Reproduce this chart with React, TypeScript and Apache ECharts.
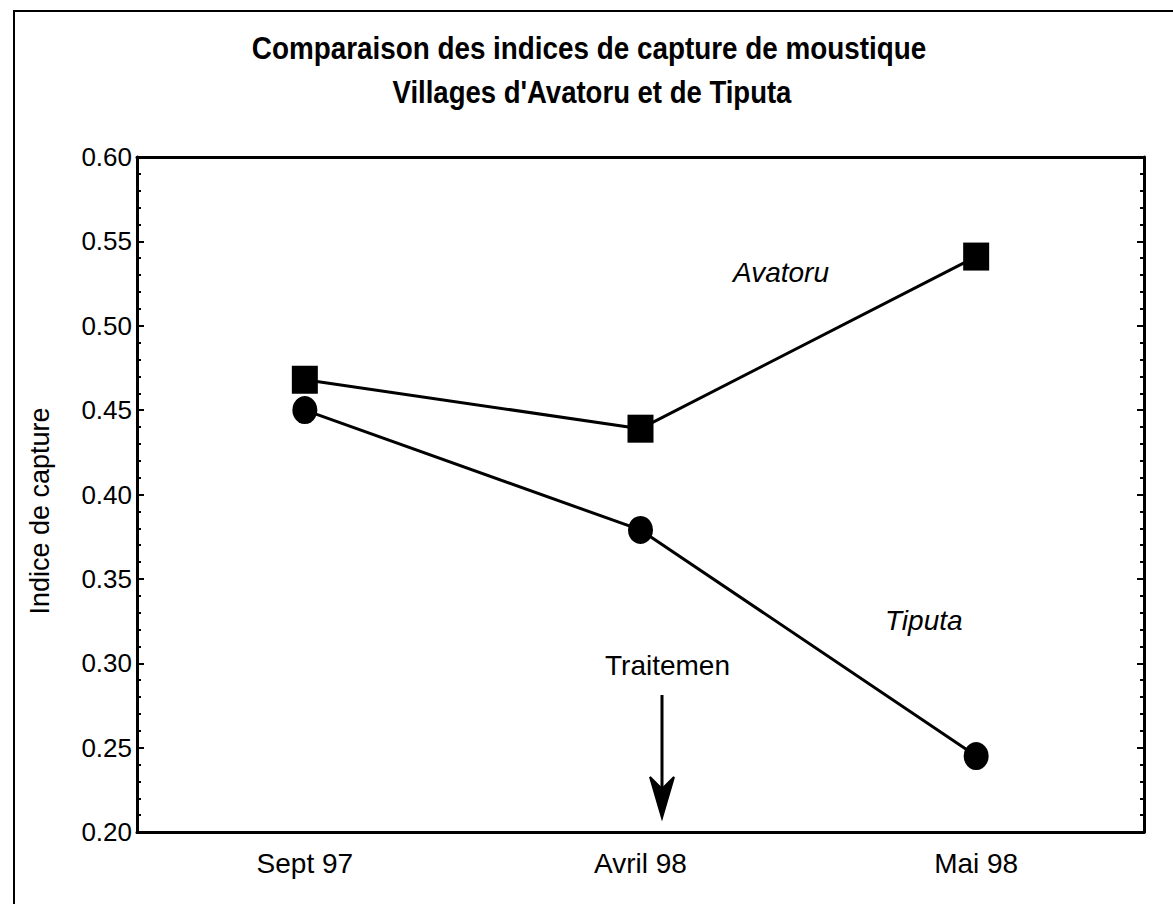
import React, { useEffect, useRef } from "react";
import * as echarts from "echarts";

const categories = ["Sept 97", "Avril 98", "Mai 98"];
const avatoru = [0.468, 0.439, 0.541];
const tiputa = [0.45, 0.379, 0.245];
const yTicks = { min: 0.2, max: 0.6, interval: 0.05 };
const titleLine1 = "Comparaison des indices de capture de moustique";
const titleLine2 = "Villages d'Avatoru et de Tiputa";
const yName = "Indice de capture";

const FONT = "'Liberation Sans', Arial, sans-serif";

export default function App() {
  const ref = useRef<HTMLDivElement>(null);
  useEffect(() => {
    document.body.style.margin = "0";
    const chart = echarts.init(ref.current!, null, { renderer: "svg" });
    const axisLineStyle = { color: "#000", width: 3 };
    chart.setOption({
      animation: false,
      backgroundColor: "#fff",
      textStyle: { fontFamily: FONT, color: "#000" },
      grid: { left: 137, right: 29, top: 157, bottom: 72 },
      xAxis: [
        {
          type: "category",
          data: categories,
          position: "bottom",
          boundaryGap: true,
          axisLine: { lineStyle: axisLineStyle },
          axisTick: { inside: true, alignWithLabel: true, length: 6, lineStyle: { color: "#000", width: 2 } },
          axisLabel: { color: "#000", fontSize: 28, fontFamily: FONT, margin: 17 },
          splitLine: { show: false },
        },
        {
          type: "category",
          data: categories,
          position: "top",
          boundaryGap: true,
          axisLine: { lineStyle: axisLineStyle },
          axisTick: { inside: true, alignWithLabel: true, length: 6, lineStyle: { color: "#000", width: 2 } },
          axisLabel: { show: false },
          splitLine: { show: false },
        },
      ],
      yAxis: [
        {
          type: "value",
          position: "left",
          min: yTicks.min,
          max: yTicks.max,
          interval: yTicks.interval,
          axisLine: { show: true, lineStyle: axisLineStyle },
          axisTick: { show: true, inside: true, length: 7, lineStyle: { color: "#000", width: 2 } },
          minorTick: { show: true, splitNumber: 5, length: 4, lineStyle: { color: "#000", width: 2 } },
          axisLabel: {
            color: "#000",
            fontSize: 26,
            fontFamily: FONT,
            margin: 5,
            formatter: (v: number) => v.toFixed(2),
          },
          splitLine: { show: false },
        },
        {
          type: "value",
          position: "right",
          min: yTicks.min,
          max: yTicks.max,
          interval: yTicks.interval,
          axisLine: { show: true, lineStyle: axisLineStyle },
          axisTick: { show: true, inside: true, length: 7, lineStyle: { color: "#000", width: 2 } },
          minorTick: { show: true, splitNumber: 5, length: 4, lineStyle: { color: "#000", width: 2 } },
          axisLabel: { show: false },
          splitLine: { show: false },
        },
      ],
      series: [
        {
          name: "Avatoru",
          type: "line",
          data: avatoru,
          symbol: "rect",
          symbolSize: [26, 28],
          showSymbol: true,
          lineStyle: { color: "#000", width: 3 },
          itemStyle: { color: "#000" },
        },
        {
          name: "Tiputa",
          type: "line",
          data: tiputa,
          symbol: "circle",
          symbolSize: [25, 28],
          showSymbol: true,
          lineStyle: { color: "#000", width: 3 },
          itemStyle: { color: "#000" },
        },
      ],
      graphic: [
        {
          type: "polyline",
          shape: { points: [[14, 904], [14, 11], [1173, 11]] },
          style: { stroke: "#000", lineWidth: 2, fill: null },
        },
        {
          type: "text",
          x: 589,
          y: 48,
          scaleX: 0.87,
          style: {
            text: titleLine1,
            font: `bold 32px ${FONT}`,
            fill: "#000",
            align: "center",
            verticalAlign: "middle",
          },
        },
        {
          type: "text",
          x: 592,
          y: 92,
          scaleX: 0.86,
          style: {
            text: titleLine2,
            font: `bold 32px ${FONT}`,
            fill: "#000",
            align: "center",
            verticalAlign: "middle",
          },
        },
        {
          type: "text",
          x: 40,
          y: 511,
          rotation: Math.PI / 2,
          style: { text: yName, font: `27px ${FONT}`, fill: "#000", align: "center", verticalAlign: "middle" },
        },
        {
          type: "text",
          x: 733,
          y: 272,
          style: { text: "Avatoru", font: `italic 28px ${FONT}`, fill: "#000", align: "left", verticalAlign: "middle" },
        },
        {
          type: "text",
          x: 885,
          y: 620,
          style: { text: "Tiputa", font: `italic 28px ${FONT}`, fill: "#000", align: "left", verticalAlign: "middle" },
        },
        {
          type: "text",
          x: 605,
          y: 665,
          style: { text: "Traitemen", font: `28px ${FONT}`, fill: "#000", align: "left", verticalAlign: "middle" },
        },
        {
          type: "line",
          shape: { x1: 662, y1: 695, x2: 662, y2: 790 },
          style: { stroke: "#000", lineWidth: 3 },
        },
        {
          type: "polygon",
          shape: { points: [[650, 777], [662, 818], [674, 777], [662, 789]] },
          style: { fill: "#000", stroke: "#000", lineWidth: 2, lineJoin: "miter" },
        },
      ],
    });
    return () => chart.dispose();
  }, []);
  return <div ref={ref} style={{ position: "fixed", left: 0, top: 0, width: 1173, height: 904 }} />;
}
